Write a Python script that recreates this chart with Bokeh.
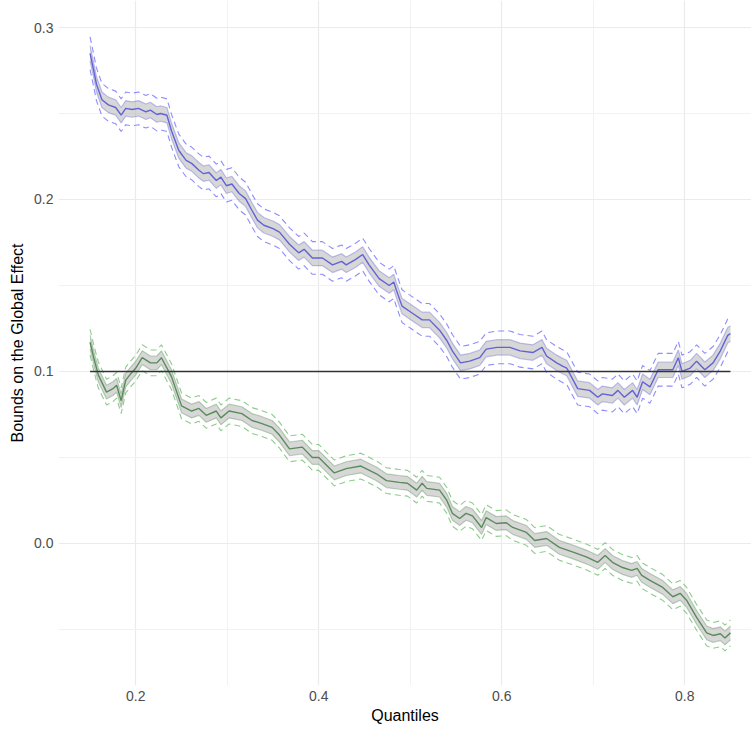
import numpy as np
from bokeh.plotting import figure
from bokeh.models import FixedTicker, ColumnDataSource
from bokeh.embed import file_html
from bokeh.resources import INLINE

# ---- data ----
blue_x = [0.150, 0.154, 0.157, 0.163, 0.170, 0.178, 0.184, 0.189, 0.196, 0.203, 0.211, 0.216,
          0.223, 0.227, 0.234, 0.239, 0.247, 0.255, 0.261, 0.269, 0.274, 0.280, 0.288, 0.293,
          0.299, 0.305, 0.313, 0.320, 0.327, 0.333, 0.340, 0.350, 0.357, 0.368, 0.378, 0.384,
          0.393, 0.404, 0.415, 0.425, 0.430, 0.440, 0.448, 0.455, 0.466, 0.477, 0.482, 0.485,
          0.491, 0.502, 0.513, 0.521, 0.532, 0.540, 0.546, 0.555, 0.565, 0.576, 0.583, 0.595,
          0.609, 0.620, 0.634, 0.644, 0.649, 0.660, 0.667, 0.671, 0.683, 0.696, 0.705, 0.710,
          0.721, 0.727, 0.734, 0.743, 0.748, 0.754, 0.762, 0.771, 0.780, 0.787, 0.793, 0.797,
          0.806, 0.813, 0.822, 0.831, 0.839, 0.847, 0.850]
blue_mid = [0.285, 0.275, 0.267, 0.258, 0.255, 0.2535, 0.249, 0.253, 0.2523, 0.253, 0.251, 0.252,
            0.2494, 0.250, 0.249, 0.240, 0.2285, 0.2227, 0.221, 0.217, 0.215, 0.2157, 0.211, 0.213,
            0.208, 0.209, 0.2035, 0.2005, 0.1936, 0.188, 0.185, 0.183, 0.181, 0.174, 0.169, 0.171,
            0.166, 0.166, 0.162, 0.164, 0.162, 0.165, 0.168, 0.162, 0.154, 0.150, 0.152, 0.147,
            0.138, 0.134, 0.130, 0.130, 0.124, 0.118, 0.112, 0.105, 0.106, 0.108, 0.113, 0.114,
            0.114, 0.112, 0.111, 0.114, 0.109, 0.105, 0.103, 0.102, 0.090, 0.089, 0.085, 0.087,
            0.086, 0.089, 0.085, 0.089, 0.085, 0.094, 0.091, 0.101, 0.101, 0.101, 0.108, 0.100,
            0.102, 0.106, 0.101, 0.105, 0.112, 0.121, 0.122]

green_x = [0.150, 0.154, 0.159, 0.168, 0.175, 0.179, 0.184, 0.189, 0.195, 0.200, 0.207, 0.216,
           0.223, 0.228, 0.239, 0.250, 0.261, 0.269, 0.277, 0.288, 0.293, 0.302, 0.316, 0.327,
           0.338, 0.349, 0.357, 0.368, 0.382, 0.393, 0.400, 0.417, 0.430, 0.446, 0.463, 0.474,
           0.488, 0.497, 0.507, 0.513, 0.518, 0.532, 0.540, 0.546, 0.554, 0.561, 0.568, 0.578,
           0.583, 0.594, 0.605, 0.612, 0.627, 0.636, 0.649, 0.663, 0.678, 0.693, 0.705, 0.713,
           0.721, 0.732, 0.742, 0.748, 0.753, 0.762, 0.776, 0.787, 0.795, 0.802, 0.813, 0.824,
           0.831, 0.839, 0.844, 0.850]
green_mid = [0.117, 0.108, 0.098, 0.088, 0.090, 0.092, 0.083, 0.095, 0.099, 0.102, 0.108, 0.105,
             0.105, 0.108, 0.097, 0.080, 0.077, 0.0785, 0.0745, 0.077, 0.073, 0.077, 0.0755, 0.0715,
             0.0697, 0.0675, 0.063, 0.055, 0.056, 0.050, 0.050, 0.041, 0.0435, 0.045, 0.0405, 0.0365,
             0.0355, 0.035, 0.031, 0.035, 0.032, 0.031, 0.025, 0.0175, 0.0145, 0.0175, 0.016, 0.0093,
             0.015, 0.0116, 0.012, 0.0093, 0.0064, 0.0017, 0.0029, -0.0023, -0.005, -0.008, -0.011, -0.007,
             -0.011, -0.014, -0.0157, -0.0145, -0.0186, -0.0215, -0.0256, -0.031, -0.029, -0.033, -0.043, -0.052,
             -0.0535, -0.0525, -0.055, -0.052]

blue_ribbon_hw = 0.0045
blue_dash_hw = 0.0095
green_ribbon_hw = 0.004
green_dash_hw = 0.0075

ref_x = [0.15, 0.85]
ref_y = [0.1, 0.1]

x_ticks = [0.2, 0.4, 0.6, 0.8]
x_minor = [0.3, 0.5, 0.7]
y_ticks = [0.0, 0.1, 0.2, 0.3]
y_minor = [-0.05, 0.05, 0.15, 0.25]

FONT = "Liberation Sans"

p = figure(width=751, height=729, output_backend="svg", toolbar_location=None,
           x_range=(0.1155, 0.873), y_range=(-0.0826, 0.3157),
           min_border_left=58, min_border_right=0, min_border_top=0, min_border_bottom=44)

p.outline_line_color = None
p.background_fill_color = "white"
p.border_fill_color = "white"

p.xaxis.ticker = FixedTicker(ticks=x_ticks, minor_ticks=x_minor)
p.yaxis.ticker = FixedTicker(ticks=y_ticks, minor_ticks=y_minor)
p.xaxis.major_label_overrides = {0.2: "0.2", 0.4: "0.4", 0.6: "0.6", 0.8: "0.8"}
p.yaxis.major_label_overrides = {0.0: "0.0", 0.1: "0.1", 0.2: "0.2", 0.3: "0.3"}

for ax in (p.xaxis, p.yaxis):
    ax.axis_line_color = None
    ax.major_tick_line_color = None
    ax.minor_tick_line_color = None
    ax.major_tick_out = 0
    ax.major_tick_in = 0
    ax.minor_tick_out = 0
    ax.minor_tick_in = 0
    ax.major_label_text_font = FONT
    ax.major_label_text_font_size = "14px"
    ax.major_label_text_color = "#4d4d4d"
    ax.axis_label_text_font = FONT
    ax.axis_label_text_font_size = "16px"
    ax.axis_label_text_font_style = "normal"
    ax.axis_label_text_color = "black"
    ax.major_label_standoff = 5

p.xaxis.axis_label = "Quantiles"
p.yaxis.axis_label = "Bounds on the Global Effect"
p.xaxis.axis_label_standoff = 3
p.yaxis.axis_label_standoff = 5

p.xgrid.grid_line_color = "#ebebeb"
p.ygrid.grid_line_color = "#ebebeb"
p.xgrid.grid_line_width = 1.2
p.ygrid.grid_line_width = 1.2
p.xgrid.minor_grid_line_color = "#f2f2f2"
p.ygrid.minor_grid_line_color = "#f2f2f2"
p.xgrid.minor_grid_line_width = 1
p.ygrid.minor_grid_line_width = 1


def draw(xs, mid, rib, dash, line_col, dash_col):
    xs = np.array(xs)
    mid = np.array(mid)
    src = ColumnDataSource(dict(x=xs, mid=mid, lo=mid - rib, hi=mid + rib,
                                dlo=mid - dash, dhi=mid + dash))
    p.varea(x="x", y1="lo", y2="hi", source=src, fill_color="#a0a0a0", fill_alpha=0.42)
    p.line(x="x", y="lo", source=src, line_color=line_col, line_alpha=0.35, line_width=1.2)
    p.line(x="x", y="hi", source=src, line_color=line_col, line_alpha=0.35, line_width=1.2)
    p.line(x="x", y="dlo", source=src, line_color=dash_col, line_alpha=0.8,
           line_width=1.1, line_dash="6 4")
    p.line(x="x", y="dhi", source=src, line_color=dash_col, line_alpha=0.8,
           line_width=1.1, line_dash="6 4")
    p.line(x="x", y="mid", source=src, line_color=line_col, line_alpha=0.9, line_width=1.4)


draw(blue_x, blue_mid, blue_ribbon_hw, blue_dash_hw, "#5555d8", "#6f6fff")
draw(green_x, green_mid, green_ribbon_hw, green_dash_hw, "#4a844a", "#6fbf6f")

p.line(ref_x, ref_y, line_color="#333333", line_width=1.6)

open("out.html", "w").write(file_html(p, INLINE))
